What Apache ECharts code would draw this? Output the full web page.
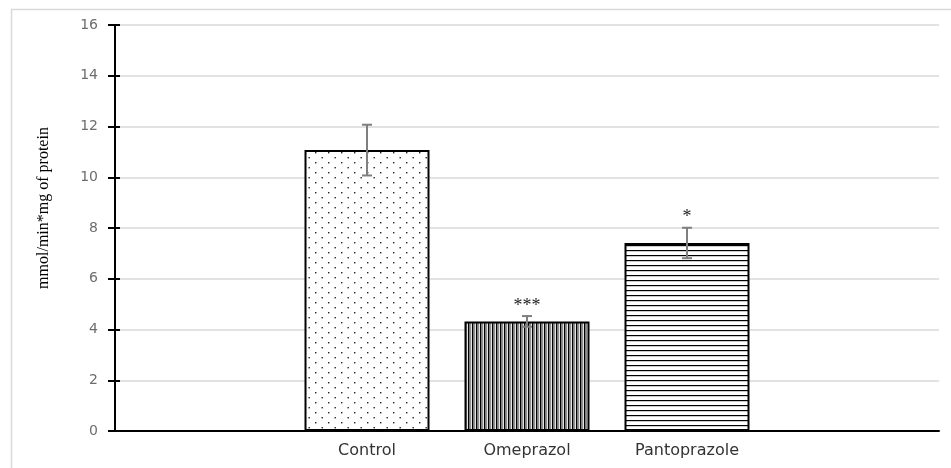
<!DOCTYPE html>
<html>
<head>
<meta charset="utf-8">
<script src="https://cdn.jsdelivr.net/npm/echarts@6/dist/echarts.min.js"></script>
<style>
html,body{margin:0;padding:0;background:#fff;}
#chart{width:951px;height:468px;}
</style>
</head>
<body>
<div id="chart"></div>
<script>
// ---- data ----
const categories = ['Control', 'Omeprazol', 'Pantoprazole'];
const positions = [1, 2, 3];
const means = [11.07, 4.32, 7.41];
const errors = [1.0, 0.21, 0.6];
const significance = ['', '***', '*'];
const yTicks = [0, 2, 4, 6, 8, 10, 12, 14, 16];
const yTitle = 'mmol/min*mg of protein';

// ---- patterns ----
function makeDots() {
  const c = document.createElement('canvas');
  c.width = 13; c.height = 10;
  const g = c.getContext('2d');
  g.fillStyle = '#fff'; g.fillRect(0, 0, 13, 10);
  g.fillStyle = '#222';
  g.fillRect(3, 2, 1.4, 1.4);
  g.fillRect(9.5, 7, 1.4, 1.4);
  return c;
}
function makeVertical() {
  const c = document.createElement('canvas');
  c.width = 4; c.height = 4;
  const g = c.getContext('2d');
  g.fillStyle = '#fff'; g.fillRect(0, 0, 4, 4);
  g.fillStyle = '#000'; g.fillRect(0, 0, 1.5, 4);
  g.fillStyle = '#777'; g.fillRect(2.2, 0, 1, 4);
  return c;
}
function makeHorizontal() {
  const c = document.createElement('canvas');
  c.width = 4; c.height = 5;
  const g = c.getContext('2d');
  g.fillStyle = '#fff'; g.fillRect(0, 0, 4, 5);
  g.fillStyle = '#000'; g.fillRect(0, 0, 4, 1.2);
  return c;
}
const patterns = [makeDots(), makeVertical(), makeHorizontal()];

const barData = positions.map((p, i) => ({
  value: [p, means[i]],
  itemStyle: {
    color: { image: patterns[i], repeat: 'repeat' },
    borderColor: '#000',
    borderWidth: 2
  }
}));
const errData = positions.map((p, i) => [p, means[i], errors[i]]);

const chart = echarts.init(document.getElementById('chart'), null, { renderer: 'canvas' });
chart.setOption({
  animation: false,
  backgroundColor: '#fff',
  grid: { left: 115, right: 12, top: 25, bottom: 37 },
  graphic: [
    {
      type: 'rect', left: 9, top: 7, silent: true,
      shape: { width: 960, height: 480 },
      style: { fill: 'none', stroke: '#d9d9d9', lineWidth: 1.5 },
      z: -10
    },
    {
      type: 'text', x: 44, y: 208, rotation: Math.PI / 2,
      style: {
        text: yTitle, fill: '#000',
        font: '16px "Liberation Serif", "Times New Roman", serif',
        align: 'center', verticalAlign: 'middle'
      }
    }
  ],
  xAxis: {
    type: 'value',
    min: -0.575, max: 4.575,
    splitLine: { show: false },
    axisTick: { show: false },
    axisLine: { show: true, onZero: false, lineStyle: { color: '#000', width: 2 } },
    axisLabel: {
      margin: 12,
      color: '#333',
      fontFamily: '"DejaVu Sans", sans-serif',
      fontSize: 16,
      showMinLabel: false,
      showMaxLabel: false,
      formatter: function (v) {
        const r = Math.round(v);
        if (Math.abs(v - r) > 1e-6) return '';
        const idx = positions.indexOf(r);
        return idx >= 0 ? categories[idx] : '';
      }
    }
  },
  yAxis: [
    {
      type: 'value', min: 0, max: 16, interval: 2,
      axisLine: { show: true, onZero: false, lineStyle: { color: '#000', width: 2 } },
      axisTick: { show: true, inside: false, length: 7, lineStyle: { color: '#000', width: 2 } },
      axisLabel: {
        margin: 17, color: '#6d6d6d',
        fontFamily: '"DejaVu Sans", sans-serif', fontSize: 14,
        formatter: function (v) { return yTicks.indexOf(v) >= 0 ? String(v) : ''; }
      },
      splitLine: { show: true, lineStyle: { color: '#d9d9d9', width: 1.5 } }
    },
    {
      type: 'value', min: 0, max: 16, interval: 2, position: 'left', offset: 0,
      axisLine: { show: false, onZero: false },
      axisTick: { show: true, inside: true, length: 5, lineStyle: { color: '#000', width: 2 } },
      axisLabel: { show: false },
      splitLine: { show: false }
    }
  ],
  series: [
    {
      type: 'bar',
      barWidth: 125,
      data: barData,
      z: 2
    },
    {
      type: 'custom',
      data: errData,
      z: 5,
      renderItem: function (params, api) {
        const x = api.value(0), y = api.value(1), e = api.value(2);
        const top = api.coord([x, y + e]);
        const bot = api.coord([x, y - e]);
        const cap = 5;
        const st = { stroke: '#7f7f7f', lineWidth: 2 };
        const children = [
          { type: 'line', shape: { x1: top[0], y1: top[1], x2: bot[0], y2: bot[1] }, style: st },
          { type: 'line', shape: { x1: top[0] - cap, y1: top[1], x2: top[0] + cap, y2: top[1] }, style: st },
          { type: 'line', shape: { x1: bot[0] - cap, y1: bot[1], x2: bot[0] + cap, y2: bot[1] }, style: st }
        ];
        const s = significance[params.dataIndex];
        if (s) {
          children.push({
            type: 'text', x: top[0], y: top[1] - 10,
            style: {
              text: s, fill: '#222',
              font: '18px "Liberation Serif", "Times New Roman", serif',
              align: 'center', verticalAlign: 'middle'
            }
          });
        }
        return { type: 'group', children: children };
      }
    }
  ]
});
</script>
</body>
</html>
